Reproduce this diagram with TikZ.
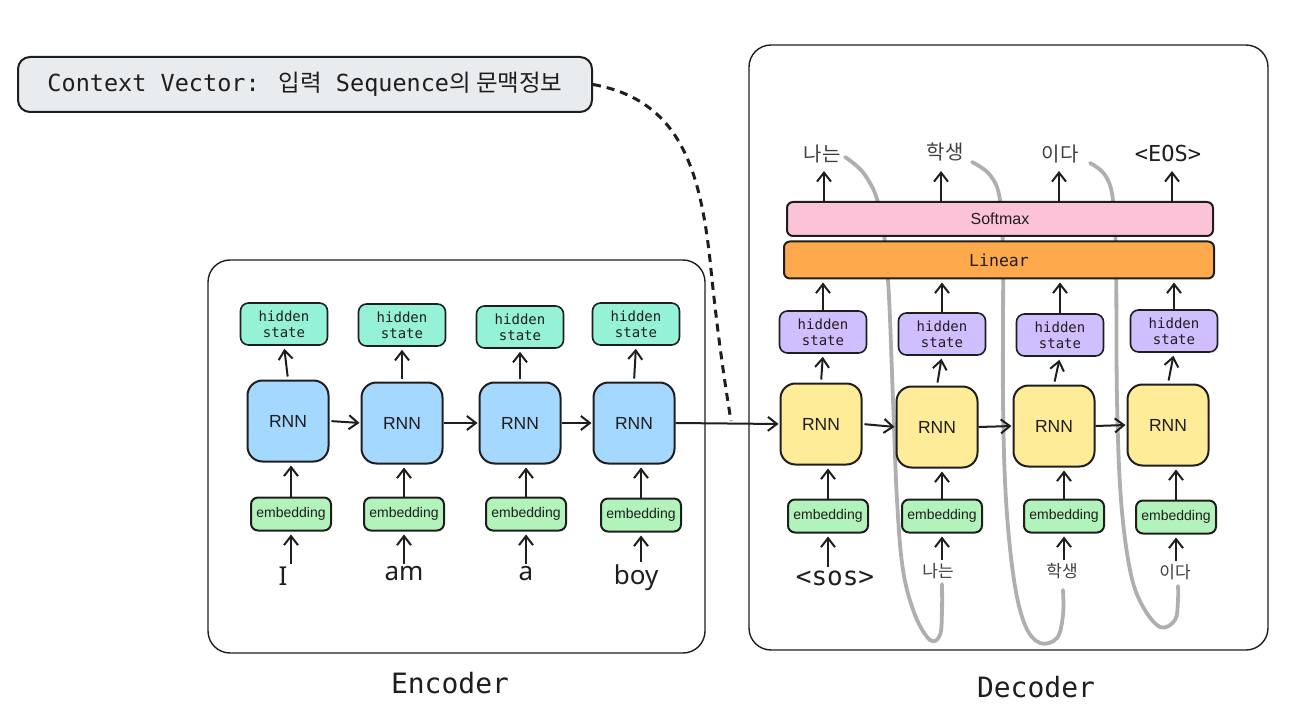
\documentclass[tikz,border=0pt]{standalone}
\usepackage{fontspec}
\setmainfont{Liberation Sans}
\newfontfamily\monof{DejaVu Sans Mono}
\newfontfamily\krf{Noto Sans CJK KR}
\newfontfamily\handf{Noto Sans}
\usetikzlibrary{arrows.meta}
\definecolor{ink}{HTML}{1E1E1E}
\definecolor{cEncHid}{HTML}{96F2D7}
\definecolor{cEncRnn}{HTML}{A5D8FF}
\definecolor{cEmb}{HTML}{B2F2BB}
\definecolor{cDecRnn}{HTML}{FFEC99}
\definecolor{cDecHid}{HTML}{D0BFFF}
\definecolor{cLin}{HTML}{FFA94D}
\definecolor{cSoft}{HTML}{FCC2D7}
\definecolor{cCtx}{HTML}{E9ECEF}
\definecolor{cLoop}{HTML}{AFAFAF}
\tikzset{
  box/.style={draw=ink, line width=2pt, text=ink, inner sep=0pt},
  rnnbox/.style={box, rounded corners=15pt, minimum width=81pt, minimum height=81pt,
     font=\fontsize{17.5}{20}\selectfont},
  hidbox/.style={box, line width=1.6pt, rounded corners=8pt, minimum width=87pt, minimum height=42pt,
     align=center, font=\monof\fontsize{14}{16}\selectfont},
  embbox/.style={box, fill=cEmb, rounded corners=7pt, minimum width=80pt, minimum height=33pt,
     font=\fontsize{14}{16}\selectfont},
  frame/.style={draw=ink, line width=1.4pt, rounded corners=22pt},
  arr/.style={draw=ink, line width=2pt, -{Straight Barb[length=9pt,width=14pt]}},
  word/.style={text=ink, inner sep=2pt, font=\handf\fontsize{26}{28}\selectfont},
  krin/.style={text=ink!85, inner sep=2pt, font=\krf\fontsize{17}{20}\selectfont},
  krout/.style={text=ink!85, inner sep=2pt, font=\krf\fontsize{20}{22}\selectfont},
  loop/.style={draw=cLoop, line width=3.8pt, line cap=round, line join=round},
  title/.style={text=ink, font=\monof\fontsize{28}{30}\selectfont},
}
\begin{document}
\begin{tikzpicture}[x=1pt,y=-1pt]
\useasboundingbox (0,0) rectangle (1294,722);

% frames
\node[frame, minimum width=497pt, minimum height=393pt] (encf) at (456.5,456.5) {};
\node[frame, minimum width=519pt, minimum height=605pt] (decf) at (1008.5,347.5) {};
\node[title] (enclab) at (450,683) {Encoder};
\node[title] (declab) at (1036,687) {Decoder};

% context vector
\node[box, fill=cCtx, rounded corners=12pt, minimum width=574pt, minimum height=55pt,
  font=\fontsize{23.5}{26}\selectfont] (cv) at (305,84.5)
  {{\monof Context Vector: }{\krf 입력}{\monof{} Sequence}{\krf 의 문맥정보}};

% gray feedback loops
\draw[loop] plot[smooth, tension=0.6] coordinates {(845,157) (865,175) (880,210) (888,280) (893,400) (897,500) (903,570) (915,615) (930,640) (940,635) (942,610) (942,584)};
\draw[loop] plot[smooth, tension=0.6] coordinates {(972,162) (990,175) (1000,200) (1003,260) (1003,400) (1006,500) (1014,580) (1025,625) (1040,643) (1057,638) (1063,615) (1063,590)};
\draw[loop] plot[smooth, tension=0.6] coordinates {(1090,163) (1105,175) (1113,200) (1116,260) (1117,400) (1121,500) (1130,570) (1142,605) (1160,627) (1175,620) (1178,600) (1178,586)};

% encoder
\node[hidbox, fill=cEncHid] (eh1) at (284,324) {hidden\\state};
\node[hidbox, fill=cEncHid] (eh2) at (402,325) {hidden\\state};
\node[hidbox, fill=cEncHid] (eh3) at (520,327) {hidden\\state};
\node[hidbox, fill=cEncHid] (eh4) at (636,324) {hidden\\state};
\node[rnnbox, fill=cEncRnn] (er1) at (288,421) {RNN};
\node[rnnbox, fill=cEncRnn] (er2) at (402,423) {RNN};
\node[rnnbox, fill=cEncRnn] (er3) at (520,423) {RNN};
\node[rnnbox, fill=cEncRnn] (er4) at (634,423) {RNN};
\node[embbox] (ee1) at (291,514) {embedding};
\node[embbox] (ee2) at (404,514) {embedding};
\node[embbox] (ee3) at (526,514) {embedding};
\node[embbox] (ee4) at (641,515) {embedding};
\node[word] (w1) at (283,576) {I};
\node[word] (w2) at (404,574) {am};
\node[word] (w3) at (526,574) {a};
\node[word] (w4) at (636,578) {boy};
\foreach \i in {1,...,4}{
  \draw[arr, shorten <=3pt, shorten >=3pt] (er\i.north) -- (eh\i.south);
  \draw[arr, shorten >=3pt] (ee\i.north) -- (ee\i.north |- er\i.south);
  \draw[arr, shorten <=1pt, shorten >=3pt] (w\i.north -| ee\i.south) -- (ee\i.south);
}
\draw[arr, shorten <=2pt, shorten >=1pt] (er1.east) -- (er2.west);
\draw[arr, shorten >=1pt] (er2.east) -- (er3.west);
\draw[arr, shorten >=1pt] (er3.east) -- (er4.west);

% decoder
\node[box, fill=cSoft, rounded corners=6pt, minimum width=426pt, minimum height=34pt,
  font=\fontsize{16}{18}\selectfont] (sm) at (1000,219) {Softmax};
\node[box, fill=cLin, rounded corners=6pt, minimum width=430pt, minimum height=37pt,
  font=\monof\fontsize{16.5}{18}\selectfont] (lin) at (999,260) {Linear};
\node[hidbox, fill=cDecHid] (dh1) at (823,332) {hidden\\state};
\node[hidbox, fill=cDecHid] (dh2) at (942,334) {hidden\\state};
\node[hidbox, fill=cDecHid] (dh3) at (1060,335) {hidden\\state};
\node[hidbox, fill=cDecHid] (dh4) at (1174,331) {hidden\\state};
\node[rnnbox, fill=cDecRnn] (dr1) at (821,424) {RNN};
\node[rnnbox, fill=cDecRnn] (dr2) at (937,427) {RNN};
\node[rnnbox, fill=cDecRnn] (dr3) at (1054,426) {RNN};
\node[rnnbox, fill=cDecRnn] (dr4) at (1168,425) {RNN};
\node[embbox] (de1) at (828,516) {embedding};
\node[embbox] (de2) at (942,516) {embedding};
\node[embbox] (de3) at (1064,516) {embedding};
\node[embbox] (de4) at (1176,517) {embedding};
\node[text=ink, inner sep=2pt, font=\monof\fontsize{26}{28}\selectfont] (in1) at (835,578) {<sos>};
\node[krin] (in2) at (938,571) {나는};
\node[krin] (in3) at (1062,571) {학생};
\node[krin] (in4) at (1175,572) {이다};
\node[krout] (o1) at (822,154) {나는};
\node[krout] (o2) at (945,152) {학생};
\node[krout] (o3) at (1060,154) {이다};
\node[text=ink, inner sep=2pt, font=\monof\fontsize{22}{24}\selectfont] (o4) at (1168,153) {<EOS>};

\foreach \i in {1,...,4}{
  \draw[arr, shorten <=3pt, shorten >=3pt] (dr\i.north) -- (dh\i.south);
  \draw[arr, shorten >=3pt] (de\i.north) -- (de\i.north |- dr\i.south);
  \draw[arr, shorten <=1pt, shorten >=3pt] (in\i.north -| de\i.south) -- (de\i.south);
  \draw[arr, shorten >=3pt] (dh\i.north) -- (dh\i.north |- lin.south);
}
\draw[arr, shorten >=1pt] (sm.north -| 824,0) -- (824,170);
\draw[arr, shorten >=1pt] (sm.north -| 941,0) -- (941,170);
\draw[arr, shorten >=1pt] (sm.north -| 1059,0) -- (1059,170);
\draw[arr, shorten >=1pt] (sm.north -| 1172,0) -- (1172,170);
\draw[arr, shorten <=2pt, shorten >=1pt] (dr1.east) -- (dr2.west);
\draw[arr, shorten >=1pt] (dr2.east) -- (dr3.west);
\draw[arr, shorten >=1pt] (dr3.east) -- (dr4.west);

% encoder -> decoder
\draw[arr, shorten >=1pt] (er4.east) -- (dr1.west);
\coordinate (cvend) at (731,421);
\draw[ink, line width=3pt, dash pattern=on 8pt off 6pt]
  (cv.east) .. controls (680,100) and (700,170) .. (710,260)
  .. controls (718,340) and (726,390) .. (cvend);
\end{tikzpicture}
\end{document}
